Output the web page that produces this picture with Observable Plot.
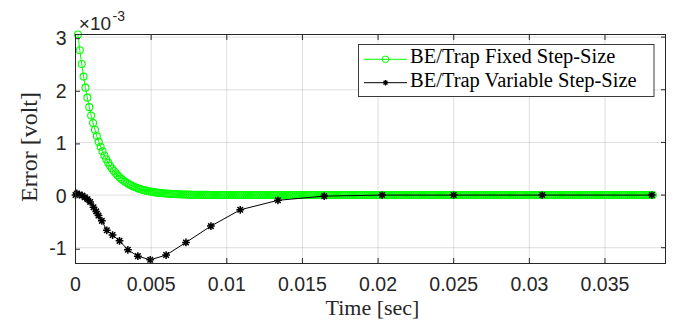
<!DOCTYPE html>
<html>
<head>
<meta charset="utf-8">
<script src="https://cdn.jsdelivr.net/npm/d3@7"></script>
<script src="https://cdn.jsdelivr.net/npm/@observablehq/plot@0.6"></script>
<style>
  html, body { margin: 0; padding: 0; background: #fff; }
  #chart { width: 681px; height: 322px; }
</style>
</head>
<body>
<div id="chart"></div>
<script>
// ---- Data (error values in units of 1e-3 volt) ----
const seriesNames = ["BE/Trap Fixed Step-Size", "BE/Trap Variable Step-Size"];

// Fixed step-size run: first sample time and step (seconds)
const fixedStart = 0.00016;
const fixedStep = 0.000125;
const fixedError = [
  3.05, 2.75, 2.49, 2.25, 2.04, 1.85, 1.67, 1.51, 1.37, 1.24,
  1.12, 1.01, 0.918, 0.830, 0.752, 0.680, 0.616, 0.557, 0.504, 0.456,
  0.413, 0.374, 0.338, 0.306, 0.277, 0.251, 0.227, 0.205, 0.186, 0.168,
  0.152, 0.138, 0.125, 0.113, 0.102, 0.092, 0.084, 0.076, 0.069, 0.062,
  0.056, 0.051, 0.046, 0.041, 0.037, 0.034, 0.031, 0.028, 0.025, 0.023,
  0.021, 0.019, 0.017, 0.015, 0.014, 0.012, 0.011, 0.010, 0.009, 0.008,
  0.007, 0.007, 0.006, 0.005, 0.005, 0.004, 0.004, 0.003, 0.003, 0.003,
  0.002, 0.002, 0.002, 0.002, 0.001, 0.001,
  0,0,0,0,0,0,0,0,0,0, 0,0,0,0,0,0,0,0,0,0, 0,0,0,0,0,0,0,0,0,0,
  0,0,0,0,0,0,0,0,0,0, 0,0,0,0,0,0,0,0,0,0, 0,0,0,0,0,0,0,0,0,0,
  0,0,0,0,0,0,0,0,0,0, 0,0,0,0,0,0,0,0,0,0, 0,0,0,0,0,0,0,0,0,0,
  0,0,0,0,0,0,0,0,0,0, 0,0,0,0,0,0,0,0,0,0, 0,0,0,0,0,0,0,0,0,0,
  0,0,0,0,0,0,0,0,0,0, 0,0,0,0,0,0,0,0,0,0, 0,0,0,0,0,0,0,0,0,0,
  0,0,0,0,0,0,0,0,0,0, 0,0,0,0,0,0,0,0,0,0, 0,0,0,0,0,0,0,0,0,0,
  0,0,0,0,0,0,0,0,0,0, 0,0,0,0,0,0,0,0,0,0, 0,0,0,0,0,0,0,0,0,0,
  0,0,0,0,0,0,0,0,0,0, 0,0,0,0,0,0,0,0,0
];

// Variable step-size run
const variableTime = [
  0, 0.00009, 0.00026, 0.00044, 0.00062, 0.00079, 0.00097, 0.00119, 0.00137, 0.00152,
  0.00174, 0.00207, 0.00245, 0.00291, 0.00346, 0.00412, 0.00494, 0.00599, 0.00730, 0.00895,
  0.01089, 0.01338, 0.01644, 0.02027, 0.02500, 0.03085, 0.03810
];
const variableError = [
  0, 0.03, 0.01, -0.01, -0.04, -0.08, -0.13, -0.23, -0.31, -0.39,
  -0.49, -0.67, -0.76, -0.87, -1.04, -1.16, -1.23, -1.14, -0.90, -0.59,
  -0.28, -0.10, -0.02, 0, 0, 0, 0
];

// Axes
const xDomain = [0, 0.039];
const yDomain = [-1.3, 3.05];
const xTicks = [0, 0.005, 0.01, 0.015, 0.02, 0.025, 0.03, 0.035];
const xTickLabels = ["0", "0.005", "0.01", "0.015", "0.02", "0.025", "0.03", "0.035"];
const yTicks = [-1, 0, 1, 2, 3];
const yTickLabels = ["-1", "0", "1", "2", "3"];
const xLabel = "Time [sec]";
const yLabel = "Error [volt]";
const yExponent = ["\u00d710", "-3"];

// ---- Build tables ----
const fixedData = fixedError.map((v, i) => ({t: fixedStart + i * fixedStep, v}));
const variableData = variableTime.map((t, i) => ({t, v: variableError[i]}));

const green = "#00ff00";
const axisColor = "#262626";
const serif = "'Liberation Serif', 'Times New Roman', serif";
const sans = "'Liberation Sans', Arial, Helvetica, sans-serif";

// MATLAB-like '*' marker (plus + cross)
const star = {
  draw(context, size) {
    const r = Math.sqrt(size / Math.PI) * 1.05;
    const d = r * Math.SQRT1_2;
    context.moveTo(0, -r); context.lineTo(0, r);
    context.moveTo(-r, 0); context.lineTo(r, 0);
    context.moveTo(-d, -d); context.lineTo(d, d);
    context.moveTo(-d, d); context.lineTo(d, -d);
  }
};

const fmtX = d => xTickLabels[xTicks.indexOf(d)];
const fmtY = d => yTickLabels[yTicks.indexOf(d)];

const chart = Plot.plot({
  width: 681,
  height: 322,
  marginLeft: 75,
  marginRight: 16,
  marginTop: 34,
  marginBottom: 59,
  style: {fontFamily: sans, fontSize: "19px", color: axisColor, background: "#fff", overflow: "visible"},
  x: {domain: xDomain},
  y: {domain: yDomain},
  marks: [
    Plot.gridX(xTicks, {stroke: axisColor, strokeOpacity: 0.15, strokeWidth: 1}),
    Plot.gridY(yTicks, {stroke: axisColor, strokeOpacity: 0.15, strokeWidth: 1}),
    Plot.line(fixedData, {x: "t", y: "v", stroke: green, strokeWidth: 1}),
    Plot.dot(fixedData, {x: "t", y: "v", r: 3.5, stroke: green, fill: "none", strokeWidth: 1.1}),
    Plot.line(variableData, {x: "t", y: "v", stroke: "#000", strokeWidth: 1}),
    Plot.dot(variableData, {x: "t", y: "v", r: 3.7, symbol: star, stroke: "#000", fill: "none", strokeWidth: 1.5}),
    Plot.frame({stroke: axisColor, strokeWidth: 1}),
    Plot.axisX(xTicks, {anchor: "bottom", tickSize: -5, tickPadding: 19, tickFormat: fmtX, label: null, stroke: axisColor, fontSize: 19.5}),
    Plot.axisX(xTicks, {anchor: "top", tickSize: -5, tickFormat: () => "", label: null, stroke: axisColor}),
    Plot.axisY(yTicks, {anchor: "left", tickSize: -5, tickPadding: 14, tickFormat: fmtY, label: null, stroke: axisColor, dy: 1.5, fontSize: 19.5}),
    Plot.axisY(yTicks, {anchor: "right", tickSize: -5, tickFormat: () => "", label: null, stroke: axisColor}),
    Plot.text([xLabel], {frameAnchor: "bottom", lineAnchor: "middle", textAnchor: "middle", dx: 2, dy: 44.5, fontFamily: serif, fontSize: 22, fill: axisColor}),
    Plot.text([yLabel], {frameAnchor: "left", lineAnchor: "middle", textAnchor: "middle", rotate: -90, dx: -46, dy: -2, fontFamily: serif, fontSize: 24, fill: axisColor}),
    Plot.text([yExponent[0]], {frameAnchor: "top-left", lineAnchor: "middle", textAnchor: "start", dx: 3.3, dy: -10.8, fontSize: 19, fill: axisColor}),
    Plot.text([yExponent[1]], {frameAnchor: "top-left", lineAnchor: "middle", textAnchor: "start", dx: 37, dy: -17.8, fontSize: 14, fill: axisColor})
  ]
});

document.getElementById("chart").appendChild(chart);

// ---- Legend (MATLAB-style box inside the axes) ----
const svg = d3.select(chart.tagName.toLowerCase() === "svg" ? chart : chart.querySelector("svg"));
const lg = svg.append("g").attr("class", "legend").attr("text-anchor", "start");
const box = {x: 358.5, y: 44.5, w: 295.5, h: 52};
lg.append("rect").attr("x", box.x).attr("y", box.y).attr("width", box.w).attr("height", box.h)
  .attr("fill", "#fff").attr("stroke", axisColor).attr("stroke-width", 0.9);
const rows = [
  {name: seriesNames[0], color: green, y: 59.3, marker: "circle"},
  {name: seriesNames[1], color: "#000", y: 82.7, marker: "star"}
];
rows.forEach(r => {
  lg.append("line").attr("x1", 364).attr("x2", 407).attr("y1", r.y).attr("y2", r.y)
    .attr("stroke", r.color).attr("stroke-width", 1);
  if (r.marker === "circle") {
    lg.append("circle").attr("cx", 385.5).attr("cy", r.y).attr("r", 3.3)
      .attr("fill", "none").attr("stroke", r.color).attr("stroke-width", 1);
  } else {
    const p = d3.path();
    star.draw(p, Math.PI * 2.6 * 2.6);
    lg.append("path").attr("d", p.toString()).attr("transform", `translate(385.5,${r.y})`)
      .attr("fill", "none").attr("stroke", r.color).attr("stroke-width", 1.3);
  }
  lg.append("text").attr("x", 410).attr("y", r.y).attr("dy", "0.2em").attr("text-anchor", "start")
    .attr("font-family", serif).attr("font-size", 20.5).attr("fill", "#000").text(r.name);
});
</script>
</body>
</html>
